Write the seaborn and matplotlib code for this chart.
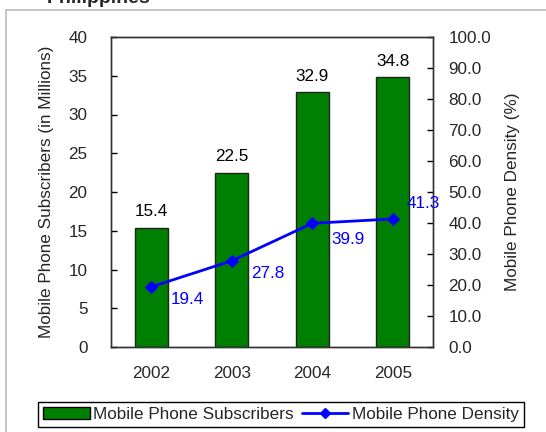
import matplotlib
matplotlib.use("Agg")
import matplotlib.pyplot as plt
import matplotlib.patches as mpatches
from matplotlib.lines import Line2D
from matplotlib.ticker import FormatStrFormatter, MultipleLocator, FixedLocator
import numpy as np
import pandas as pd
import seaborn as sns

years = ["2002", "2003", "2004", "2005"]
subscribers = [15.4, 22.5, 32.9, 34.8]
density = [19.4, 27.8, 39.9, 41.3]
title = "Philippines"
left_label = "Mobile Phone Subscribers (in Millions)"
right_label = "Mobile Phone Density (%)"
bar_name = "Mobile Phone Subscribers"
line_name = "Mobile Phone Density"

sns.set_style("white")
plt.rcParams['font.family'] = ['Liberation Sans', 'DejaVu Sans']
FS = 12.3
plt.rcParams['font.size'] = FS

W, H = 546, 432
fig = plt.figure(figsize=(W / 100, H / 100), dpi=100)
ax = fig.add_axes([111 / W, 1 - 347 / H, (433 - 111) / W, (347 - 37) / H])

df = pd.DataFrame({"year": years, "subs": subscribers})
sns.barplot(data=df, x="year", y="subs", color="#008000", saturation=1,
            width=0.41, edgecolor="#222222", linewidth=1, ax=ax)
ax.set_xlim(-0.5, len(years) - 0.5)
ax.set_ylim(0, 40)
ax.yaxis.set_major_locator(MultipleLocator(5))
ax.set_xlabel("")
ax.set_ylabel(left_label, labelpad=10, fontsize=FS)
ax.tick_params(axis="y", direction="in", length=4, width=1, color="black", pad=17, labelsize=FS)
ax.tick_params(axis="x", which="major", length=0, pad=14, labelsize=FS)
ax.xaxis.set_minor_locator(FixedLocator(np.arange(0.5, len(years) - 0.5, 1.0)))
ax.tick_params(axis="x", which="minor", direction="in", length=4, width=1, color="black")
for s in ax.spines.values():
    s.set_color("#333333")
    s.set_linewidth(1)

for i, v in enumerate(subscribers):
    ax.annotate(f"{v:.1f}", (i, v), xytext=(0, 6), textcoords="offset points",
                ha="center", va="bottom", fontsize=FS, color="black")

ax2 = ax.twinx()
xs = np.arange(len(years))
sns.lineplot(x=xs, y=density, color="#0000FF", marker="D", markersize=6,
             markeredgecolor="#0000FF", linewidth=2, ax=ax2, legend=False)
ax2.set_ylim(0, 100)
ax2.yaxis.set_major_locator(MultipleLocator(10))
ax2.yaxis.set_major_formatter(FormatStrFormatter("%.1f"))
ax2.tick_params(axis="y", direction="in", length=4, width=1, color="black", pad=11, labelsize=FS)
ax2.set_ylabel(right_label, labelpad=10, fontsize=FS)
for s in ax2.spines.values():
    s.set_color("#333333")
    s.set_linewidth(1)

offsets = [(14, -4), (14, -4), (14, -6), (10, 6)]
for i, v in enumerate(density):
    ax2.annotate(f"{v:.1f}", (xs[i], v), xytext=offsets[i], textcoords="offset points",
                 ha="left", va="top" if offsets[i][1] < 0 else "bottom",
                 fontsize=FS, color="#0000FF")

fig.text(99 / W, 1 - 3 / H, title, ha="center", va="baseline",
         fontsize=14, fontweight="bold")

frame = mpatches.Rectangle((6 / W, -0.05), 1.1, 1 - 10 / H + 0.05,
                           transform=fig.transFigure, fill=False,
                           edgecolor="#bbbbbb", linewidth=1.2)
fig.patches.append(frame)

handles = [mpatches.Patch(facecolor="#008000", edgecolor="black", label=bar_name),
           Line2D([0], [0], color="#0000FF", marker="D", markersize=5, linewidth=2, label=line_name)]
leg = fig.legend(handles=handles, loc="upper center", bbox_to_anchor=(281 / W, 1 - 402 / H),
                 ncol=2, frameon=True, fancybox=False, edgecolor="black", framealpha=1,
                 fontsize=FS, handlelength=2.7, handletextpad=0.2, columnspacing=0.5,
                 borderpad=0.3, borderaxespad=0)
leg.get_frame().set_linewidth(1)

fig.savefig("out.png", dpi=100)
